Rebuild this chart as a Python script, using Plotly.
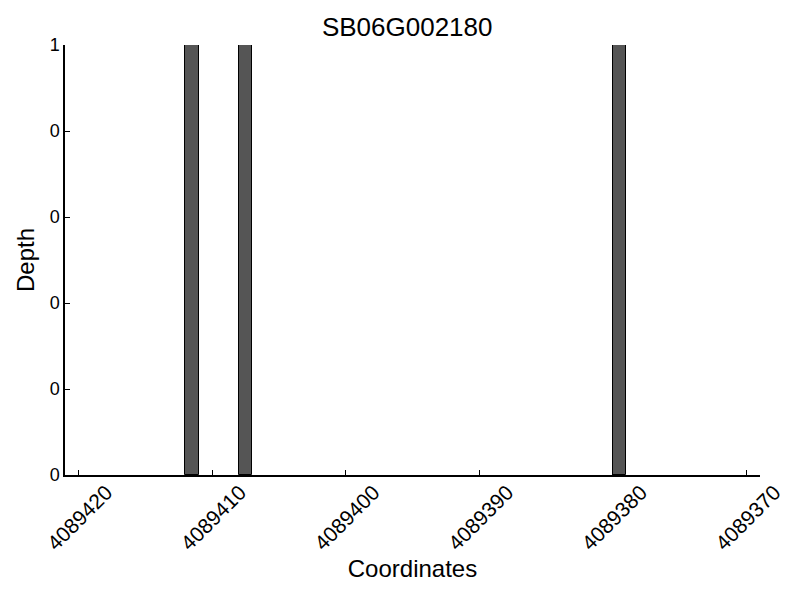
import plotly.graph_objects as go

title = "SB06G002180"
positions = [4089411, 4089407, 4089379]
depth = [1, 1, 1]
x_ticks = [4089420, 4089410, 4089400, 4089390, 4089380, 4089370]
y_ticks = [0, 0.2, 0.4, 0.6, 0.8, 1.0]
y_tick_text = ["0", "0", "0", "0", "0", "1"]

fig = go.Figure()
fig.add_trace(go.Bar(
    x=positions, y=depth, width=1, offset=0,
    marker=dict(color="#555555", line=dict(color="black", width=1)),
))
fig.update_layout(
    width=800, height=600,
    paper_bgcolor="white", plot_bgcolor="white",
    margin=dict(l=57, r=48, t=37, b=133),
    font=dict(family="Liberation Sans, Arial, sans-serif", color="black", size=18),
    title=dict(text=title, x=0.499, xanchor="center", y=0.968, yanchor="middle",
               font=dict(size=26)),
    showlegend=False,
    bargap=0,
)
fig.update_xaxes(
    range=[4089421, 4089369], tickvals=x_ticks, ticktext=[str(v) for v in x_ticks],
    tickangle=-45, ticks="inside", ticklen=5, tickcolor="black",
    tickfont=dict(size=21),
    showline=True, linecolor="black", linewidth=1.5, showgrid=False, zeroline=False,
    automargin=False, ticklabelshift=-28, ticklabelstandoff=-5,
    title=dict(text="Coordinates", font=dict(size=24), standoff=6),
)
fig.update_yaxes(
    range=[0, 1], tickvals=y_ticks, ticktext=y_tick_text,
    ticks="inside", ticklen=5, tickcolor="black",
    showline=True, linecolor="black", linewidth=1.5, showgrid=False, zeroline=False,
    automargin=False,
    title=dict(text="Depth", font=dict(size=24), standoff=8),
)
fig.write_html("out.html")
